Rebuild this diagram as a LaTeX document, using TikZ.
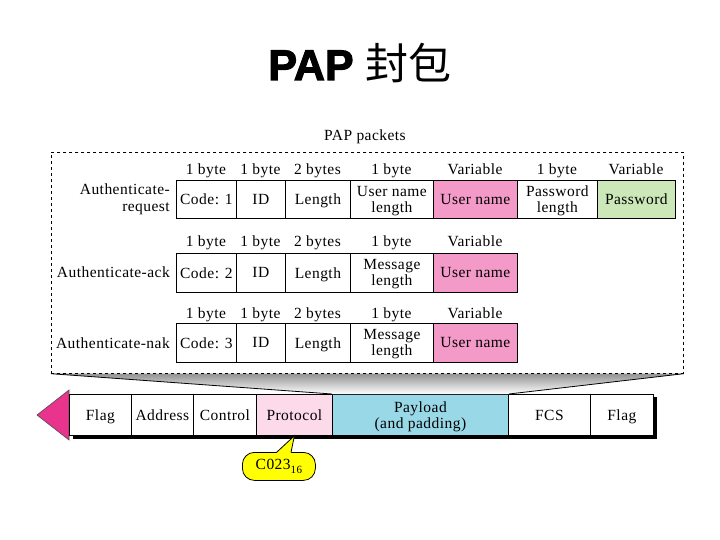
\documentclass[tikz,border=0pt]{standalone}
\usepackage{fontspec}
\setmainfont{Liberation Serif}[LetterSpace=3]
\newfontfamily\titlefont{Liberation Sans}[BoldFeatures={FakeBold=2.5}]
\newfontfamily\cjk{Noto Sans CJK SC}
\definecolor{unamepink}{RGB}{244,154,200}
\definecolor{pwgreen}{RGB}{204,232,184}
\definecolor{payblue}{RGB}{153,216,230}
\definecolor{protopink}{RGB}{252,218,234}
\definecolor{trimag}{RGB}{232,52,140}
\definecolor{callyellow}{RGB}{255,255,0}
\tikzset{
  cell/.style={draw=black, line width=0.8pt, anchor=north west, inner sep=0pt,
    align=center, font=\fontsize{15.5}{16}\selectfont, text depth=0pt},
  hdr/.style={anchor=base, inner sep=0pt, font=\fontsize{15.5}{16}\selectfont},
  rowlbl/.style={anchor=east, inner sep=0pt, align=right, font=\fontsize{15.5}{17}\selectfont},
  fcell/.style={draw=black, line width=0.8pt, anchor=north west, inner sep=0pt,
    align=center, font=\fontsize{15.5}{16}\selectfont, fill=white, text depth=0pt}
}
\begin{document}
\begin{tikzpicture}[x=1pt,y=-1pt]
\useasboundingbox (0,0) rectangle (720,540);
% title
\node[anchor=base, inner sep=0pt] (title) at (360,80)
  {\fontsize{43}{43}\selectfont{\titlefont\bfseries PAP} \cjk 封包};
% dashed container
\node[draw, dashed, line width=0.7pt, anchor=north west, minimum width=632pt,
  minimum height=221pt, inner sep=0pt] (pap) at (51,152) {};
\node[anchor=base, inner sep=0pt, font=\fontsize{15.5}{16}\selectfont] (paptitle) at (365,141) {PAP packets};

% Row 1
\node[rowlbl] (lbl1) at (170,199) {Authenticate-\\request};
\node[cell, minimum width=60pt, minimum height=38pt] (r1a) at (176,180) {Code: 1};
\node[cell, minimum width=49pt, minimum height=38pt] (r1b) at (236,180) {ID};
\node[cell, minimum width=65pt, minimum height=38pt] (r1c) at (285,180) {Length};
\node[cell, minimum width=83pt, minimum height=38pt] (r1d) at (350,180) {User name\\length};
\node[cell, minimum width=84pt, minimum height=38pt, fill=unamepink] (r1e) at (433,180) {User name};
\node[cell, minimum width=80pt, minimum height=38pt] (r1f) at (517,180) {Password\\length};
\node[cell, minimum width=78pt, minimum height=38pt, fill=pwgreen] (r1g) at (597,180) {Password};
\node[hdr] (h1a) at (206,175) {1 byte};
\node[hdr] (h1b) at (260.5,175) {1 byte};
\node[hdr] (h1c) at (317.5,175) {2 bytes};
\node[hdr] (h1d) at (391.5,175) {1 byte};
\node[hdr] (h1e) at (475,175) {Variable};
\node[hdr] (h1f) at (557,175) {1 byte};
\node[hdr] (h1g) at (636,175) {Variable};

% Row 2
\node[rowlbl] (lbl2) at (170,272) {Authenticate-ack};
\node[cell, minimum width=60pt, minimum height=39pt] (r2a) at (176,253) {Code: 2};
\node[cell, minimum width=49pt, minimum height=39pt] (r2b) at (236,253) {ID};
\node[cell, minimum width=65pt, minimum height=39pt] (r2c) at (285,253) {Length};
\node[cell, minimum width=83pt, minimum height=39pt] (r2d) at (350,253) {Message\\length};
\node[cell, minimum width=84pt, minimum height=39pt, fill=unamepink] (r2e) at (433,253) {User name};
\node[hdr] (h2a) at (206,247) {1 byte};
\node[hdr] (h2b) at (260.5,247) {1 byte};
\node[hdr] (h2c) at (317.5,247) {2 bytes};
\node[hdr] (h2d) at (391.5,247) {1 byte};
\node[hdr] (h2e) at (475,247) {Variable};

% Row 3
\node[rowlbl] (lbl3) at (170,343) {Authenticate-nak};
\node[cell, minimum width=60pt, minimum height=39pt] (r3a) at (176,323) {Code: 3};
\node[cell, minimum width=49pt, minimum height=39pt] (r3b) at (236,323) {ID};
\node[cell, minimum width=65pt, minimum height=39pt] (r3c) at (285,323) {Length};
\node[cell, minimum width=83pt, minimum height=39pt] (r3d) at (350,323) {Message\\length};
\node[cell, minimum width=84pt, minimum height=39pt, fill=unamepink] (r3e) at (433,323) {User name};
\node[hdr] (h3a) at (206,318) {1 byte};
\node[hdr] (h3b) at (260.5,318) {1 byte};
\node[hdr] (h3c) at (317.5,318) {2 bytes};
\node[hdr] (h3d) at (391.5,318) {1 byte};
\node[hdr] (h3e) at (475,318) {Variable};

% frame shadow
\fill[black] (73,397) rectangle (657,439);
% triangle
\filldraw[fill=trimag, draw=black!70, line width=0.6pt] (69,390) -- (37,415) -- (69,440) -- cycle;
% frame cells
\node[fcell, minimum width=62pt, minimum height=41pt] (fflag1) at (69,394) {Flag};
\node[fcell, minimum width=62pt, minimum height=41pt] (faddr) at (131,394) {Address};
\node[fcell, minimum width=63pt, minimum height=41pt] (fctrl) at (193,394) {Control};
\node[fcell, minimum width=76pt, minimum height=41pt, fill=protopink] (proto) at (256,394) {Protocol};
\node[fcell, minimum width=176pt, minimum height=41pt, fill=payblue] (payload) at (332,394) {Payload\\(and padding)};
\node[fcell, minimum width=82pt, minimum height=41pt] (ffcs) at (508,394) {FCS};
\node[fcell, minimum width=63pt, minimum height=41pt] (fflag2) at (590,394) {Flag};

% funnel
\shade[top color=gray!85, bottom color=white] (pap.south west) -- (pap.south east)
  -- (payload.north east) -- (payload.north west) -- cycle;
\draw[line width=0.8pt] (pap.south west) -- (payload.north west);
\draw[line width=0.8pt] (pap.south east) -- (payload.north east);
\draw[dashed, line width=0.7pt] (pap.south west) -- (pap.south east);

% callout
\node[draw=black, line width=0.8pt, fill=callyellow, rounded corners=12pt,
  minimum width=73pt, minimum height=28pt, inner sep=0pt,
  font=\fontsize{15.5}{16}\selectfont, anchor=north west] (c023) at (242,452)
  {C023\raisebox{-4pt}{\fontsize{11}{11}\selectfont 16}};
\fill[callyellow] (276.5,452.8) -- (proto.south) -- (291,452.8) -- cycle;
\draw[line width=0.8pt] (276.5,452.4) -- (proto.south) -- (291,452.4);
\end{tikzpicture}
\end{document}
